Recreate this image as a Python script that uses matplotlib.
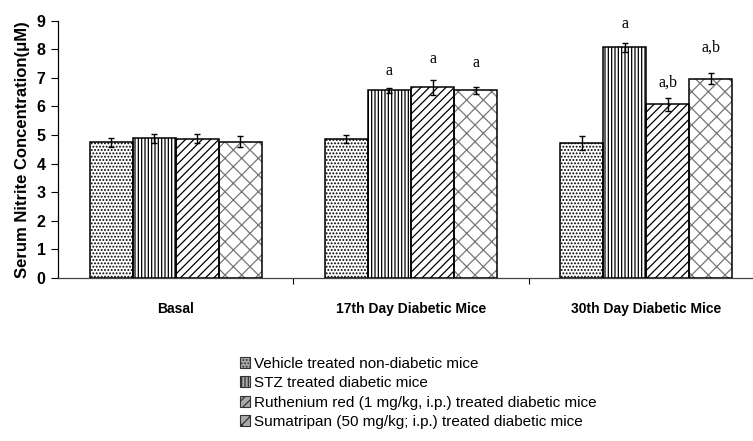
import numpy as np
import matplotlib
matplotlib.use('Agg')
import matplotlib.pyplot as plt
from matplotlib.patches import Patch

plt.rcParams['font.family'] = ['Liberation Sans', 'DejaVu Sans']
plt.rcParams['hatch.linewidth'] = 0.9

groups = ['Basal', '17th Day Diabetic Mice', '30th Day Diabetic Mice']
series = ['Vehicle treated non-diabetic mice',
          'STZ treated diabetic mice',
          'Ruthenium red (1 mg/kg, i.p.) treated diabetic mice',
          'Sumatripan (50 mg/kg; i.p.) treated diabetic mice']

# nitrite means and SEM, one row per series, one column per group
means = np.array([[4.74, 4.85, 4.71],
                  [4.88, 6.56, 8.07],
                  [4.87, 6.67, 6.07],
                  [4.76, 6.56, 6.97]])
sems = np.array([[0.16, 0.14, 0.25],
                 [0.15, 0.10, 0.15],
                 [0.15, 0.26, 0.22],
                 [0.19, 0.11, 0.19]])

# significance letters: (series, group, text)
marks = [(1, 1, 'a'), (2, 1, 'a'), (3, 1, 'a'),
         (1, 2, 'a'), (2, 2, 'a,b'), (3, 2, 'a,b')]
mark_gap = {(1, 1): 0.58, (2, 1): 0.72, (3, 1): 0.84,
            (1, 2): 0.66, (2, 2): 0.54, (3, 2): 0.91}

hatches = ['.....', '|||||', '////', 'xx']
hatch_cols = ['black', 'black', 'black', '#777777']

fig = plt.figure(figsize=(7.53, 4.41), dpi=100)
ax = fig.add_axes([58/753, 1-278/441, (764-58)/753, (278-20.7)/441])

x = np.arange(len(groups))
w = 0.183
for i in range(len(series)):
    xs = x + (i - 1.5) * w
    ax.bar(xs, means[i], w, color='white', edgecolor=hatch_cols[i],
           hatch=hatches[i], linewidth=0, zorder=2)
    ax.bar(xs, means[i], w, fill=False, edgecolor='black', linewidth=1.1, zorder=3)
    ax.errorbar(xs, means[i], yerr=sems[i], fmt='none', ecolor='black',
                elinewidth=1, capsize=2.5, capthick=1, zorder=4)

for i, g, txt in marks:
    xp = x[g] + (i - 1.5) * w
    yp = means[i, g] + sems[i, g] + mark_gap[(i, g)]
    ax.text(xp, yp, txt, ha='center', va='center', fontsize=11.5,
            family='Liberation Serif')

ax.set_xlim(-0.5, 2.5)
ax.set_ylim(0, 9)
ax.set_yticks(range(10))
ax.set_xticks(x)
ax.set_xticklabels(groups, fontsize=10, fontweight='bold')
ax.tick_params(axis='x', length=0, pad=17)
ax.set_xticks([0.5, 1.5], minor=True)
ax.tick_params(axis='x', which='minor', length=4, direction='out', width=0.8)
ax.tick_params(axis='y', length=5, width=0.8, labelsize=11.5, pad=4)
for lab in ax.get_yticklabels():
    lab.set_fontweight('bold')
ax.set_ylabel('Serum Nitrite Concentration(μM)', fontsize=12, fontweight='bold', labelpad=5)

for s in ['top', 'right']:
    ax.spines[s].set_visible(False)
ax.spines['left'].set_linewidth(0.9)
ax.spines['bottom'].set_linewidth(0.9)
ax.spines['bottom'].set_color('#444444')

handles = [Patch(facecolor='#aaaaaa', edgecolor='#333333', hatch=h, linewidth=0.8)
           for h in hatches]
leg = fig.legend(handles, series, loc='upper left', bbox_to_anchor=(232/753, 1-349/441),
                 frameon=False, fontsize=11, handlelength=0.7, handleheight=0.7,
                 handletextpad=0.25, labelspacing=0.36, borderpad=0)

fig.savefig('out.png', dpi=100)
